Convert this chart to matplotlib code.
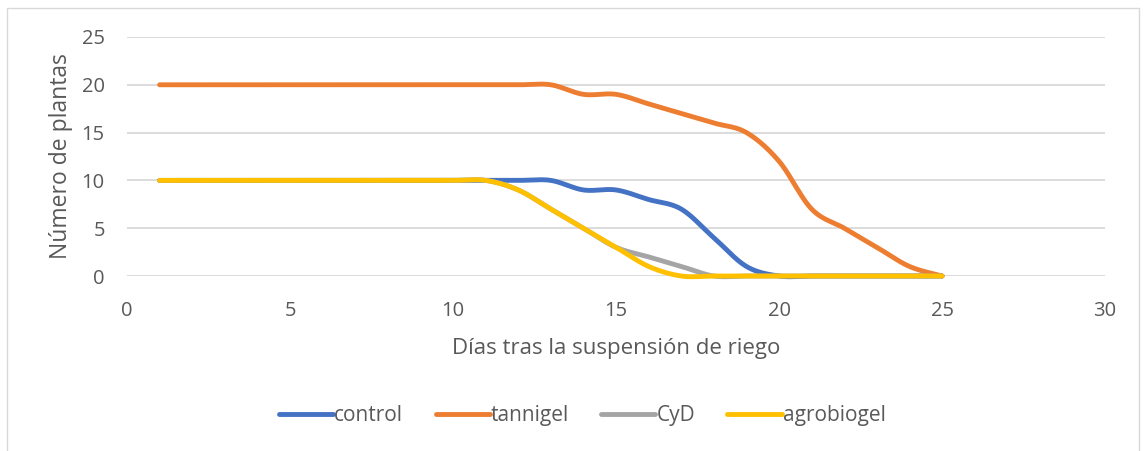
import numpy as np
import matplotlib.pyplot as plt
from matplotlib.patches import Rectangle

dias = list(range(1, 26))
control = [10]*13 + [9, 9, 8, 7, 4, 1, 0, 0, 0, 0, 0, 0]
tannigel = [20]*13 + [19, 19, 18, 17, 16, 15, 12, 7, 5, 3, 1, 0]
cyd = [10, 10, 10, 10, 10, 10, 10, 10, 10, 10, 10, 9, 7, 5, 3, 2, 1, 0, 0, 0, 0, 0, 0, 0, 0]
agrobiogel = [10, 10, 10, 10, 10, 10, 10, 10, 10, 10, 10, 9, 7, 5, 3, 1, 0, 0, 0, 0, 0, 0, 0, 0, 0]

series = ["control", "tannigel", "CyD", "agrobiogel"]
colores = ["#4472C4", "#ED7D31", "#A5A5A5", "#FFC000"]


def suavizar(x, y, n=30):
    # bezier suave tipo Excel (catmull-rom)
    x = np.asarray(x, float)
    y = np.asarray(y, float)
    px = np.concatenate([[x[0]], x, [x[-1]]])
    py = np.concatenate([[y[0]], y, [y[-1]]])
    xs, ys = [], []
    t = np.linspace(0, 1, n)
    for i in range(1, len(px) - 2):
        p0 = np.array([px[i], py[i]])
        p3 = np.array([px[i+1], py[i+1]])
        p1 = p0 + (np.array([px[i+1], py[i+1]]) - np.array([px[i-1], py[i-1]])) / 6
        p2 = p3 - (np.array([px[i+2], py[i+2]]) - np.array([px[i], py[i]])) / 6
        b = ((1-t)**3)[:, None]*p0 + (3*(1-t)**2*t)[:, None]*p1 + (3*(1-t)*t**2)[:, None]*p2 + (t**3)[:, None]*p3
        xs.append(b[:, 0])
        ys.append(b[:, 1])
    return np.concatenate(xs), np.concatenate(ys)


plt.rcParams['font.family'] = ['Open Sans', 'DejaVu Sans']
fig = plt.figure(figsize=(11.44, 4.51), dpi=100)
fig.patches.append(Rectangle((0.006, -0.01), 0.99, 0.992, transform=fig.transFigure,
                             fill=False, edgecolor="#d9d9d9", lw=1))
ax = fig.add_axes([0.111, 0.388, 0.855, 0.53])

for nombre, datos, c in zip(series, [control, tannigel, cyd, agrobiogel], colores):
    xs, ys = suavizar(dias, datos)
    ax.plot(xs, ys, color=c, lw=3.5, label=nombre, solid_capstyle='round')

ax.set_xlim(0, 30)
ax.set_ylim(0, 25)
ax.set_xticks(range(0, 31, 5))
ax.set_yticks(range(0, 26, 5))
ax.grid(axis='y', color='#d9d9d9', lw=1.3)
ax.set_axisbelow(True)
for s in ax.spines.values():
    s.set_visible(False)
ax.tick_params(length=0, labelsize=14.5, colors='#595959')
ax.tick_params(axis='y', pad=16)
ax.tick_params(axis='x', pad=18)
ax.set_xlabel("Días tras la suspensión de riego", fontsize=16, color='#595959', labelpad=12)
ax.set_ylabel("Número de plantas", fontsize=16.5, color='#595959', labelpad=6)
for l in ax.lines:
    l.set_clip_on(False)

fig.legend(loc='center', bbox_to_anchor=(0.509, 0.078), ncol=4, frameon=False,
           fontsize=15, handlelength=2.6, handletextpad=0.05, columnspacing=1.55,
           labelcolor='#595959')

fig.savefig("out.png", dpi=100)
